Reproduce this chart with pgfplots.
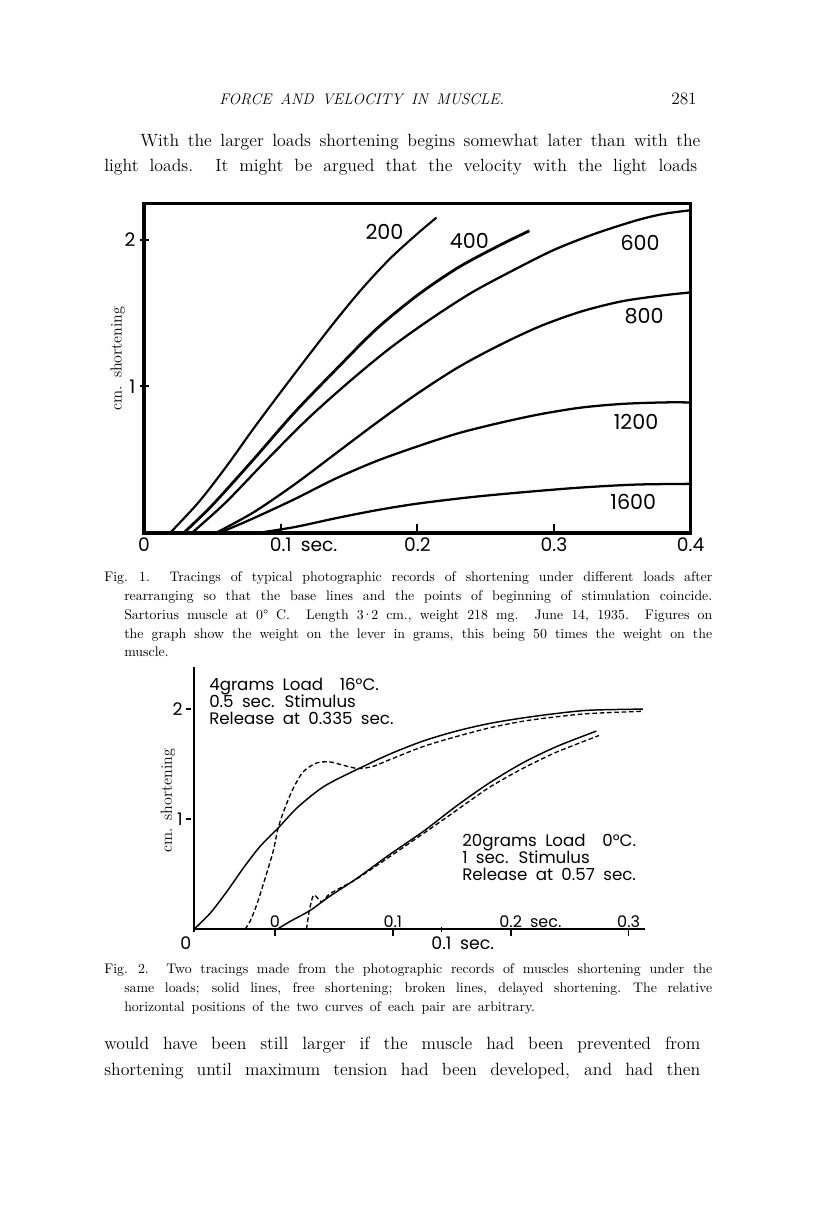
\documentclass[border=0pt]{standalone}
\usepackage{fontspec}
\usepackage{pgfplots}
\pgfplotsset{compat=1.18}
\newfontfamily\lettering{Poppins}
\newdimen\pxu \pxu=0.75pt
% one line of page text, stretched to a width given in pixels
\newcommand{\pline}[5][]{\node[anchor=base west,inner sep=0pt,#1] at (#2,1221-#3) {\makebox[#4\pxu][s]{#5}};}
\newcommand{\nline}[4][]{\node[anchor=base west,inner sep=0pt,#1] at (#2,1221-#3) {#4};}
\newcommand{\widesp}{\spaceskip=0.5em plus 1em minus 0.02em\xspaceskip=0.6em plus 1em\relax}
\tikzset{
  bodytext/.style={font=\fontsize{13.3}{16}\selectfont\widesp},
  captext/.style={font=\fontsize{10.4}{13}\selectfont\widesp},
  letttext/.style={font=\lettering\fontsize{12.5}{14}\selectfont\widesp},
}
\begin{document}
\begin{tikzpicture}
\begin{scope}[x=0.75pt,y=0.75pt]
\path[use as bounding box] (0,0) rectangle (816,1221);
% running head and text above
\pline[font=\fontsize{11.5}{14}\selectfont\itshape\widesp]{219}{105}{285}{FORCE AND VELOCITY IN MUSCLE.}
\node[anchor=base east,inner sep=0pt,font=\fontsize{13}{14}\selectfont] at (697,1221-105) {281};
\pline[bodytext]{140}{147}{557}{With the larger loads shortening begins somewhat later than with the}
\pline[bodytext]{104}{172}{593}{light loads.\ \ It might be argued that the velocity with the light loads}
% caption 1
\pline[captext]{104}{582}{608}{Fig. 1.\ \ Tracings of typical photographic records of shortening under different loads after}
\pline[captext]{124}{601}{588}{rearranging so that the base lines and the points of beginning of stimulation coincide.}
\pline[captext]{124}{620}{588}{Sartorius muscle at 0° C.\ \ Length 3\kern-1.2pt·\kern-1.2pt2 cm., weight 218 mg.\ \ June 14, 1935.\ \ Figures on}
\pline[captext]{124}{639}{588}{the graph show the weight on the lever in grams, this being 50 times the weight on the}
\nline[captext]{124}{657}{muscle.}
% notes inside fig 2
\nline[letttext]{209}{691}{4grams Load\quad 16°C.}
\nline[letttext]{209}{708}{0.5 sec. Stimulus}
\nline[letttext]{209}{725}{Release at 0.335 sec.}
\nline[letttext]{462}{847}{20grams Load\quad 0°C.}
\nline[letttext]{462}{864}{1 sec. Stimulus}
\nline[letttext]{462}{881}{Release at 0.57 sec.}
% caption 2
\pline[captext]{104}{974}{608}{Fig. 2.\ \ Two tracings made from the photographic records of muscles shortening under the}
\pline[captext]{124}{993}{588}{same loads; solid lines, free shortening; broken lines, delayed shortening. The relative}
\nline[captext]{124}{1012}{horizontal positions of the two curves of each pair are arbitrary.}
% text below
\pline[bodytext]{104}{1050}{596}{would have been still larger if the muscle had been prevented from}
\pline[bodytext]{104}{1076}{596}{shortening until maximum tension had been developed, and had then}
\end{scope}

% ---------- Fig. 1 ----------
\begin{axis}[
    at={(108pt,516pt)}, anchor=south west,
    scale only axis, width=410pt, height=247pt,
    xmin=0, xmax=0.4, ymin=0, ymax=2.245,
    axis line style={line width=2.4pt},
    xtick={0,0.1,0.2,0.3,0.4}, xticklabels={0,0.1\rlap{\ sec.},0.2,0.3,0.4},
    ytick={1,2}, yticklabels={1,2},
    xtick pos=bottom, ytick pos=left,
    major tick length=7pt,
    tick style={line width=1.5pt,black},
    y tick style={xshift=-3pt},
    ticklabel style={font=\lettering\fontsize{14}{14}\selectfont\widesp},
    yticklabel style={xshift=-3pt},
    ylabel={cm.\ shortening},
    ylabel style={font=\fontsize{12}{12}\selectfont\widesp,at={(axis description cs:-0.048,0.53)},anchor=center},
]
\addplot[line width=1.6pt,smooth,tension=0.5] coordinates {(0.019,0) (0.04,0.21) (0.06,0.45) (0.08,0.71) (0.10,0.96) (0.12,1.205) (0.14,1.445) (0.16,1.67) (0.18,1.87) (0.20,2.04) (0.214,2.15)};
\addplot[line width=2.1pt,smooth,tension=0.5] coordinates {(0.029,0) (0.05,0.19) (0.08,0.50) (0.11,0.82) (0.14,1.11) (0.17,1.39) (0.20,1.62) (0.23,1.81) (0.26,1.96) (0.282,2.06)};
\addplot[line width=1.7pt,smooth,tension=0.5] coordinates {(0.035,0) (0.06,0.21) (0.09,0.50) (0.12,0.78) (0.15,1.03) (0.18,1.26) (0.21,1.46) (0.24,1.64) (0.27,1.79) (0.30,1.93) (0.33,2.04) (0.36,2.13) (0.38,2.175) (0.40,2.20)};
\addplot[line width=1.7pt,smooth,tension=0.5] coordinates {(0.0525,0) (0.08,0.14) (0.11,0.33) (0.14,0.54) (0.17,0.75) (0.20,0.95) (0.23,1.13) (0.26,1.28) (0.29,1.41) (0.32,1.51) (0.35,1.58) (0.38,1.62) (0.40,1.64)};
\addplot[line width=1.7pt,smooth,tension=0.5] coordinates {(0.055,0) (0.08,0.10) (0.11,0.23) (0.14,0.37) (0.17,0.49) (0.20,0.59) (0.23,0.68) (0.26,0.75) (0.29,0.81) (0.32,0.855) (0.35,0.88) (0.38,0.89) (0.40,0.89)};
\addplot[line width=1.7pt,smooth,tension=0.5] coordinates {(0.083,0) (0.11,0.04) (0.14,0.10) (0.17,0.155) (0.20,0.20) (0.24,0.245) (0.28,0.28) (0.32,0.31) (0.36,0.33) (0.40,0.335)};
\begin{scope}[font=\lettering\fontsize{15.5}{16}\selectfont]
\node at (axis cs:0.176,2.05) {200};
\node at (axis cs:0.238,1.99) {400};
\node at (axis cs:0.363,1.98) {600};
\node at (axis cs:0.366,1.48) {800};
\node at (axis cs:0.360,0.76) {1200};
\node at (axis cs:0.358,0.21) {1600};
\end{scope}
\end{axis}

% ---------- Fig. 2, 4 g pair (its own time scale) ----------
\begin{axis}[
    at={(145.5pt,218.8pt)}, anchor=south west,
    scale only axis, width=338pt, height=196.5pt,
    xmin=0, xmax=0.1821, ymin=0, ymax=2.38,
    axis x line=bottom, axis y line=left,
    axis line style={-,line width=1.4pt},
    xtick={0,0.1}, xticklabels={\llap{0\kern2pt},0.1\rlap{\ sec.}},
    ytick={1,2}, yticklabels={1,2},
    major tick length=4pt,
    tick style={line width=1.2pt,black},
    y tick style={xshift=-4pt},
    ticklabel style={font=\lettering\fontsize{13}{13}\selectfont\widesp},
    yticklabel style={xshift=-3pt},
    ylabel={cm.\ shortening},
    ylabel style={font=\fontsize{12}{12}\selectfont\widesp,at={(axis description cs:-0.058,0.49)},anchor=center},
]
\addplot[line width=1.1pt,smooth,tension=0.5] coordinates {(0,0) (0.0065,0.145) (0.0132,0.34) (0.0199,0.555) (0.0266,0.75) (0.034,0.92) (0.0415,1.10) (0.0495,1.25) (0.055,1.33) (0.0657,1.45) (0.079,1.59) (0.0926,1.71) (0.106,1.80) (0.1195,1.87) (0.133,1.92) (0.1464,1.96) (0.160,1.99) (0.1814,2.00)};
\addplot[line width=1.0pt,dash pattern=on 3.5pt off 2pt,smooth,tension=0.5] coordinates {(0.0206,0) (0.0226,0.07) (0.0253,0.22) (0.0287,0.46) (0.032,0.71) (0.034,0.92) (0.0367,1.10) (0.0401,1.28) (0.0441,1.43) (0.0495,1.51) (0.055,1.52) (0.0603,1.49) (0.0664,1.46) (0.0724,1.48) (0.079,1.54) (0.0926,1.66) (0.106,1.75) (0.1195,1.83) (0.133,1.89) (0.1464,1.93) (0.160,1.96) (0.1814,1.98)};
\end{axis}

% ---------- Fig. 2, 20 g pair (its own time scale) ----------
\begin{axis}[
    at={(145.5pt,218.8pt)}, anchor=south west,
    scale only axis, width=338pt, height=196.5pt,
    xmin=-0.0686, xmax=0.3136, ymin=0, ymax=2.38,
    axis x line=bottom, axis y line=none,
    x axis line style={draw=none},
    xtick={0,0.1,0.2,0.3}, xticklabels={0,0.1,0.2\rlap{\ sec.},0.3},
    ytick=\empty,
    tick align=outside, major tick length=5pt,
    tick style={line width=1.2pt,black},
    ticklabel style={font=\lettering\fontsize{12}{12}\selectfont\widesp},
    xticklabel style={anchor=south,yshift=3pt},
]
\addplot[line width=1.1pt,smooth,tension=0.5] coordinates {(0.002,0) (0.0127,0.07) (0.0297,0.17) (0.0466,0.30) (0.0692,0.46) (0.0975,0.68) (0.126,0.89) (0.154,1.12) (0.182,1.33) (0.210,1.51) (0.239,1.66) (0.2726,1.80)};
\addplot[line width=1.0pt,dash pattern=on 3.5pt off 2pt,smooth,tension=0.4] coordinates {(0.0268,0) (0.029,0.16) (0.0319,0.29) (0.0339,0.31) (0.0395,0.25) (0.0452,0.31) (0.0494,0.34) (0.058,0.39) (0.0692,0.455) (0.0975,0.66) (0.126,0.87) (0.154,1.08) (0.182,1.29) (0.210,1.46) (0.239,1.61) (0.2749,1.76)};
\end{axis}
\end{tikzpicture}
\end{document}
